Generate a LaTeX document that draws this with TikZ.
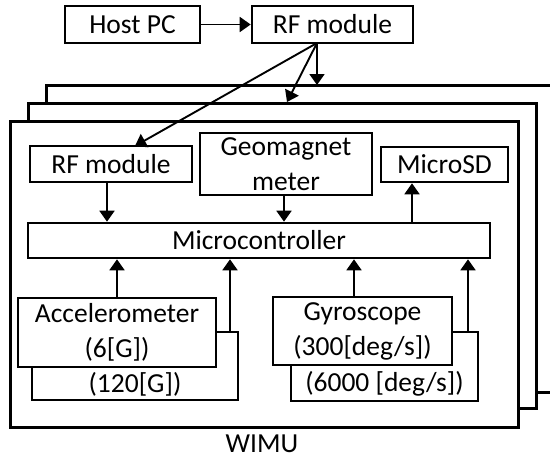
\documentclass[tikz,border=0pt]{standalone}
\usepackage{fontspec}
\setmainfont{Carlito}
\usetikzlibrary{arrows.meta}
\begin{document}
\begin{tikzpicture}[x=1pt,y=-1pt,
  box/.style={draw,line width=2.6pt,fill=white,inner sep=0pt,align=center,font=\fontsize{27.5}{35}\selectfont},
  frame/.style={draw,line width=3pt,fill=white},
  lbl/.style={inner sep=0pt,font=\fontsize{27.5}{35}\selectfont},
  arr/.style={line width=1.9pt,-{Triangle[width=15pt,length=11pt]}}]
\useasboundingbox (0,0) rectangle (550,461);
\clip (0,0) rectangle (550,461);
% stacked WIMU frames
\draw[frame] (46,85) rectangle (570,392);
\draw[frame] (28,103) rectangle (536,408);
\draw[frame] (10,121) rectangle (518,427);
% top nodes
\node[box,minimum width=135pt,minimum height=37pt] (host) at (132.5,24.5) {Host PC};
\node[box,minimum width=161pt,minimum height=37pt] (rftop) at (332.5,24.5) {RF module};
% inner nodes
\node[box,minimum width=162pt,minimum height=36pt] (rfin) at (111,164) {RF module};
\node[box,minimum width=172pt,minimum height=62pt] (geo) at (286,164) {Geomagnet\\meter};
\node[box,minimum width=127pt,minimum height=35pt] (sd) at (444.5,164.5) {MicroSD};
\node[box,minimum width=462pt,minimum height=35pt] (mcu) at (259,240.5) {Microcontroller};
\node[box,minimum width=206pt,minimum height=68pt] (accB) at (135,366) {};
\node[lbl] (accBt) at (135,384) {(120[G])};
\node[box,minimum width=198pt,minimum height=69pt] (accF) at (117,332.5) {Accelerometer\\(6[G])};
\node[box,minimum width=187pt,minimum height=69pt] (gyrB) at (384.5,366.5) {};
\node[lbl] (gyrBt) at (384.5,383.5) {(6000 [deg/s])};
\node[box,minimum width=179pt,minimum height=68pt] (gyrF) at (362.5,331) {Gyroscope\\(300[deg/s])};
\node[lbl] (wimu) at (262,444) {WIMU};
% connectors
\coordinate (src) at (317,43);
\coordinate (t1) at (317,85);
\coordinate (t2) at (287,102);
\coordinate (t3) at (135,146);
\draw[arr] (host.east) -- (rftop.west);
\draw[arr] (src) -- (t1);
\draw[arr] (src) -- (t2);
\draw[arr] (src) -- (t3);
\draw[arr] ([xshift=-4pt]rfin.south) -- ([xshift=-4pt]rfin.south |- mcu.north);
\draw[arr] ([xshift=-2pt]geo.south) -- ([xshift=-2pt]geo.south |- mcu.north);
\draw[arr] ([xshift=-32.5pt]sd.south |- mcu.north) -- ([xshift=-32.5pt]sd.south);
\draw[arr] (accF.north) -- (accF.north |- mcu.south);
\draw[arr] ([xshift=95pt]accB.north) -- ([xshift=95pt]accB.north |- mcu.south);
\draw[arr] ([xshift=-8.5pt]gyrF.north) -- ([xshift=-8.5pt]gyrF.north |- mcu.south);
\draw[arr] ([xshift=83.5pt]gyrB.north) -- ([xshift=83.5pt]gyrB.north |- mcu.south);
\end{tikzpicture}
\end{document}
